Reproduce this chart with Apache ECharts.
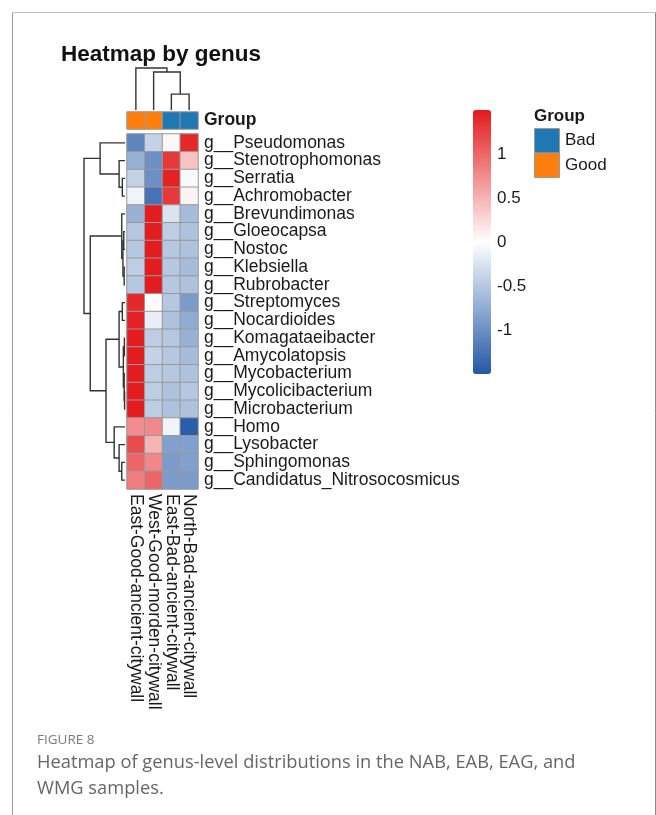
<!DOCTYPE html>
<html>
<head>
<meta charset="utf-8">
<title>Heatmap by genus</title>
<script src="https://cdn.jsdelivr.net/npm/echarts@6/dist/echarts.min.js"></script>
<style>
  html, body { margin: 0; padding: 0; background: #ffffff; }
  #chart { width: 656px; height: 815px; }
</style>
</head>
<body>
<div id="chart"></div>
<script>
// ---- data ----
const colNames = [
  'East-Good-ancient-citywall',
  'West-Good-morden-citywall',
  'East-Bad-ancient-citywall',
  'North-Bad-ancient-citywall'
];
const colGroups = ['Good', 'Good', 'Bad', 'Bad'];
const groupNames = ['Bad', 'Good'];

const rowNames = [
  'g__Pseudomonas', 'g__Stenotrophomonas', 'g__Serratia', 'g__Achromobacter',
  'g__Brevundimonas', 'g__Gloeocapsa', 'g__Nostoc', 'g__Klebsiella', 'g__Rubrobacter',
  'g__Streptomyces', 'g__Nocardioides', 'g__Komagataeibacter', 'g__Amycolatopsis',
  'g__Mycobacterium', 'g__Mycolicibacterium', 'g__Microbacterium',
  'g__Homo', 'g__Lysobacter', 'g__Sphingomonas', 'g__Candidatus_Nitrosocosmicus'
];

// row-scaled abundance (z-score), one array per sample column
const zEastGood  = [-1.10, -0.70, -0.40, -0.10, -0.70, -0.50, -0.50, -0.45, -0.50, 1.40, 1.45, 1.48, 1.48, 1.48, 1.48, 1.48, 0.75, 1.17, 1.00, 0.85];
const zWestGood  = [-0.40, -1.00, -1.00, -1.25, 1.48, 1.48, 1.48, 1.48, 1.48, 0.03, -0.15, -0.45, -0.40, -0.45, -0.45, -0.45, 0.77, 0.50, 0.78, 1.00];
const zEastBad   = [0.05, 1.30, 1.45, 1.30, -0.25, -0.45, -0.50, -0.50, -0.50, -0.50, -0.55, -0.50, -0.50, -0.50, -0.55, -0.55, -0.10, -0.85, -0.90, -0.90];
const zNorthBad  = [1.40, 0.40, -0.05, 0.08, -0.60, -0.55, -0.55, -0.60, -0.55, -0.90, -0.75, -0.70, -0.60, -0.55, -0.50, -0.55, -1.45, -0.85, -0.85, -0.90];

// hierarchical clustering of rows (hclust-style merge table: negative = leaf, positive = earlier merge)
const rowMerge = [
  [-3, -4], [-2, 1], [-1, 2],
  [-6, -7], [-8, -9], [4, 5], [-5, 6],
  [-10, -11], [-15, -16], [-14, 9], [-12, -13], [11, 10], [8, 12],
  [-19, -20], [-18, 14], [-17, 15],
  [13, 16], [7, 17], [3, 18]
];
const rowHeight = [0.65, 1.44, 6.07, 0.30, 0.20, 0.50, 0.79, 0.65, 0.10, 0.20, 0.15, 0.40, 1.44, 0.79, 1.44, 2.64, 4.63, 8.47, 10.0];

// hierarchical clustering of columns
const colMerge = [[-3, -4], [-2, 1], [-1, 2]];
const colHeight = [3.77, 9.04, 10.0];

// ---- styles ----
const groupColors = { Bad: '#1f77b4', Good: '#ff7f0e' };
const rampColors = ['#2358a6', '#ffffff', '#e31a1c'];
const labelFont = 'Liberation Sans, Arial, sans-serif';
const cellBorder = '#999999';
const treeColor = '#333333';

// ---- build series data ----
const sampleColumns = [zEastGood, zWestGood, zEastBad, zNorthBad];
const heatData = [];
sampleColumns.forEach((col, ci) => col.forEach((v, ri) => heatData.push([ci, ri, v])));

const groupData = colGroups.map((g, ci) => [ci, 0, groupNames.indexOf(g)]);

function dendroSegments(merge, height) {
  const pos = [], hgt = [], segs = [];
  merge.forEach((m, i) => {
    const side = k => k < 0 ? [(-k) - 0.5, 0] : [pos[k - 1], hgt[k - 1]];
    const [pa, ha] = side(m[0]);
    const [pb, hb] = side(m[1]);
    pos[i] = (pa + pb) / 2;
    hgt[i] = height[i];
    segs.push([pa, pb, height[i], ha, hb]);
  });
  return segs;
}
const rowSegs = dendroSegments(rowMerge, rowHeight);
const colSegs = dendroSegments(colMerge, colHeight);

function bracket(horizontal) {
  return function (params, api) {
    const pa = api.value(0), pb = api.value(1), h = api.value(2), ha = api.value(3), hb = api.value(4);
    const pt = (p, d) => horizontal ? api.coord([d, p]) : api.coord([p, d]);
    return {
      type: 'polyline',
      shape: { points: [pt(pa, ha), pt(pa, h), pt(pb, h), pt(pb, hb)] },
      style: { stroke: treeColor, lineWidth: 1.4, fill: null }
    };
  };
}

// ---- layout ----
const cellW = 17.75, cellH = 17.75;
const heatLeft = 127, heatTop = 134;
const heatW = cellW * colNames.length, heatH = cellH * rowNames.length;

const chart = echarts.init(document.getElementById('chart'), null, { renderer: 'canvas' });

const legendItems = [];
groupNames.forEach((g, i) => {
  legendItems.push({
    type: 'rect', left: 534, top: 128 + i * 24.5,
    shape: { width: 25, height: 24.5 },
    style: { fill: groupColors[g], stroke: '#9a9a9a', lineWidth: 1 }
  });
  legendItems.push({
    type: 'text', left: 565, top: 132 + i * 24.5,
    style: { text: g, fontSize: 17, fontFamily: labelFont, fill: '#1a1a1a' }
  });
});

const option = {
  animation: false,
  backgroundColor: '#ffffff',
  grid: [
    { left: heatLeft, top: heatTop, width: heatW, height: heatH },          // 0 main heatmap
    { left: heatLeft, top: 112, width: heatW, height: 17 },                 // 1 group annotation
    { left: 84, top: heatTop, width: 41, height: heatH },                   // 2 row dendrogram
    { left: heatLeft, top: 68, width: heatW, height: 42 },                  // 3 column dendrogram
    { left: 473, top: 110, width: 18, height: 264 }                         // 4 colour-bar ticks
  ],
  xAxis: [
    {
      gridIndex: 0, type: 'category', data: colNames, position: 'bottom',
      axisLine: { show: false }, axisTick: { show: false }, splitLine: { show: false },
      axisLabel: { rotate: -90, margin: 5, fontSize: 17.5, fontFamily: labelFont, color: '#1a1a1a', interval: 0 }
    },
    { gridIndex: 1, type: 'category', data: colNames, show: false },
    { gridIndex: 2, type: 'value', min: 0, max: 10, inverse: true, show: false },
    { gridIndex: 3, type: 'value', min: 0, max: colNames.length, show: false },
    { gridIndex: 4, type: 'category', data: [''], show: false }
  ],
  yAxis: [
    {
      gridIndex: 0, type: 'category', data: rowNames, inverse: true, position: 'right',
      axisLine: { show: false }, axisTick: { show: false }, splitLine: { show: false },
      axisLabel: { margin: 6, fontSize: 17.5, fontFamily: labelFont, color: '#1a1a1a', interval: 0 }
    },
    {
      gridIndex: 1, type: 'category', data: ['Group'], position: 'right',
      axisLine: { show: false }, axisTick: { show: false }, splitLine: { show: false },
      axisLabel: { margin: 6, fontSize: 17.5, fontWeight: 'bold', fontFamily: labelFont, color: '#1a1a1a' }
    },
    { gridIndex: 2, type: 'value', min: 0, max: rowNames.length, inverse: true, show: false },
    { gridIndex: 3, type: 'value', min: 0, max: 10, show: false },
    {
      gridIndex: 4, type: 'value', min: -1.5, max: 1.5, interval: 0.5, position: 'right',
      axisLine: { show: false }, axisTick: { show: false }, splitLine: { show: false },
      axisLabel: { showMinLabel: false, showMaxLabel: false, margin: 6, fontSize: 17, fontFamily: labelFont, color: '#1a1a1a' }
    }
  ],
  visualMap: [
    {
      type: 'continuous', seriesIndex: 0, min: -1.5, max: 1.5,
      orient: 'vertical', left: 473, top: 110, padding: 0,
      itemWidth: 18, itemHeight: 264, text: null, calculable: false, hoverLink: false,
      inRange: { color: rampColors }
    },
    {
      type: 'piecewise', seriesIndex: 1, show: false,
      pieces: groupNames.map((g, i) => ({ value: i, color: groupColors[g] }))
    }
  ],
  series: [
    {
      type: 'heatmap', xAxisIndex: 0, yAxisIndex: 0, data: heatData,
      itemStyle: { borderColor: cellBorder, borderWidth: 1 },
      emphasis: { disabled: true }
    },
    {
      type: 'heatmap', xAxisIndex: 1, yAxisIndex: 1, data: groupData,
      itemStyle: { borderColor: cellBorder, borderWidth: 1 },
      emphasis: { disabled: true }
    },
    {
      type: 'custom', xAxisIndex: 2, yAxisIndex: 2, data: rowSegs,
      renderItem: bracket(true), silent: true
    },
    {
      type: 'custom', xAxisIndex: 3, yAxisIndex: 3, data: colSegs,
      renderItem: bracket(false), silent: true
    }
  ],
  graphic: [
    // figure frame
    { type: 'line', shape: { x1: 12.5, y1: 12.5, x2: 655.5, y2: 12.5 }, style: { stroke: '#c4c4c4', lineWidth: 1 } },
    { type: 'line', shape: { x1: 12.5, y1: 12.5, x2: 12.5, y2: 815 }, style: { stroke: '#9a9a9a', lineWidth: 1 } },
    { type: 'line', shape: { x1: 655.5, y1: 12.5, x2: 655.5, y2: 815 }, style: { stroke: '#8a8a8a', lineWidth: 1 } },
    // title
    {
      type: 'text', left: 61, top: 43, z: 10,
      style: { text: 'Heatmap by genus', fontSize: 22.5, fontWeight: 'bold', fontFamily: labelFont, fill: '#111111' }
    },
    // group legend
    {
      type: 'text', left: 534, top: 108,
      style: { text: 'Group', fontSize: 17, fontWeight: 'bold', fontFamily: labelFont, fill: '#1a1a1a' }
    },
    ...legendItems,
    // caption
    {
      type: 'text', left: 37, top: 733,
      style: { text: 'FIGURE 8', fontSize: 13.5, fontFamily: 'Open Sans, sans-serif', fill: '#7a7a7a' }
    },
    {
      type: 'text', left: 37, top: 750,
      style: {
        text: 'Heatmap of genus-level distributions in the NAB, EAB, EAG, and\nWMG samples.',
        fontSize: 18.3, lineHeight: 26, fontFamily: 'Open Sans, sans-serif', fill: '#666666'
      }
    }
  ]
};

chart.setOption(option);
</script>
</body>
</html>
